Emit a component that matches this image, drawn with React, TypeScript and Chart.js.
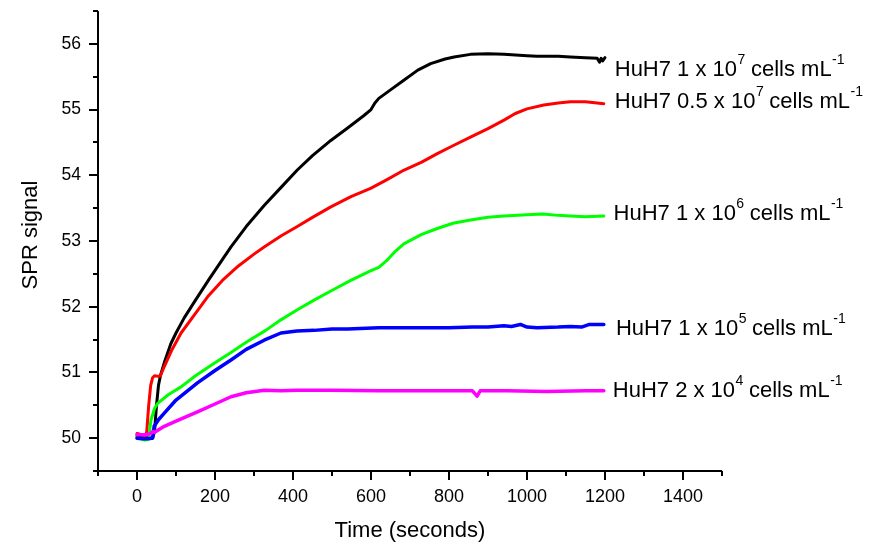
import React, { useEffect, useRef } from 'react';
import { Chart, registerables } from 'chart.js';

Chart.register(...registerables);

// ---- Data (time in seconds, SPR signal) ----
const timeBlack = [0, 20, 40, 45, 50, 55, 60, 70, 87, 100, 121, 150, 185, 241, 280, 326, 370, 411, 450, 497, 540, 582, 600, 610, 620, 650, 685, 720, 753, 790, 813, 855, 900, 941, 1000, 1026, 1080, 1111, 1150, 1180, 1186, 1190, 1194, 1200];
const signalBlack = [50.03, 50.02, 50.0, 50.1, 50.5, 50.8, 50.95, 51.15, 51.44, 51.6, 51.83, 52.1, 52.42, 52.91, 53.22, 53.54, 53.82, 54.08, 54.3, 54.53, 54.72, 54.91, 55.0, 55.1, 55.17, 55.3, 55.45, 55.6, 55.7, 55.77, 55.8, 55.84, 55.85, 55.84, 55.82, 55.81, 55.81, 55.8, 55.79, 55.78, 55.72, 55.78, 55.74, 55.79];

const timeRed = [0, 15, 20, 25, 30, 35, 40, 45, 55, 60, 70, 90, 113, 150, 181, 219, 260, 300, 326, 370, 411, 450, 497, 550, 599, 640, 685, 730, 770, 810, 855, 900, 941, 970, 1000, 1043, 1080, 1111, 1150, 1197];
const signalRed = [50.07, 50.05, 50.0, 50.1, 50.5, 50.8, 50.92, 50.95, 50.94, 50.95, 51.09, 51.35, 51.6, 51.9, 52.15, 52.4, 52.62, 52.8, 52.91, 53.08, 53.22, 53.36, 53.52, 53.68, 53.8, 53.93, 54.08, 54.2, 54.33, 54.45, 54.58, 54.71, 54.84, 54.94, 55.01, 55.07, 55.1, 55.12, 55.12, 55.09];

const timeGreen = [0, 20, 30, 33, 36, 45, 53, 80, 113, 150, 198, 240, 283, 330, 369, 410, 454, 497, 548, 600, 620, 640, 660, 685, 730, 770, 810, 855, 900, 941, 1000, 1040, 1080, 1111, 1150, 1197];
const signalGreen = [50.0, 49.97, 49.98, 50.15, 50.28, 50.45, 50.53, 50.66, 50.78, 50.95, 51.14, 51.3, 51.47, 51.64, 51.8, 51.95, 52.1, 52.24, 52.4, 52.55, 52.6, 52.7, 52.83, 52.96, 53.1, 53.19, 53.27, 53.32, 53.36, 53.38, 53.4, 53.41, 53.39, 53.38, 53.37, 53.38];

const timeBlue = [0, 20, 40, 44, 55, 70, 100, 155, 200, 241, 280, 326, 369, 410, 454, 500, 540, 620, 700, 800, 860, 900, 941, 960, 983, 1000, 1026, 1080, 1111, 1140, 1160, 1180, 1197];
const signalBlue = [50.0, 49.99, 50.0, 50.18, 50.28, 50.38, 50.58, 50.84, 51.03, 51.19, 51.35, 51.49, 51.6, 51.63, 51.64, 51.66, 51.66, 51.68, 51.68, 51.68, 51.69, 51.69, 51.71, 51.7, 51.73, 51.69, 51.68, 51.69, 51.7, 51.69, 51.73, 51.73, 51.73];

const timeMagenta = [0, 20, 35, 40, 45, 70, 100, 155, 200, 241, 280, 326, 370, 411, 497, 620, 700, 800, 860, 872, 880, 950, 1050, 1150, 1197];
const signalMagenta = [50.05, 50.05, 50.07, 50.1, 50.09, 50.18, 50.26, 50.4, 50.52, 50.63, 50.69, 50.73, 50.72, 50.73, 50.73, 50.72, 50.72, 50.72, 50.72, 50.64, 50.72, 50.72, 50.71, 50.72, 50.72];

const seriesColors = ['#000000', '#ff0000', '#00ff00', '#0000ff', '#ff00ff'];
const seriesWidths = [3, 3, 3, 3.5, 3.5];

// Curve labels: main text, exponent of 10, and anchor (data units)
const labelPrefix = ['HuH7 1 x 10', 'HuH7 0.5 x 10', 'HuH7 1 x 10', 'HuH7 1 x 10', 'HuH7 2 x 10'];
const labelExponent = ['7', '7', '6', '5', '4'];
const labelSuffix = [' cells mL', ' cells mL', ' cells mL', ' cells mL', ' cells mL'];
const labelSuffixExp = ['-1', '-1', '-1', '-1', '-1'];
const labelX = [1225, 1225, 1222, 1228, 1220];
const labelY = [55.64, 55.15, 53.44, 51.69, 50.75];

const xTitle = 'Time (seconds)';
const yTitle = 'SPR signal';

const FONT = "'Liberation Sans', Arial, sans-serif";

const toPoints = (t: number[], v: number[]) => t.map((x, i) => ({ x, y: v[i] }));

const decorPlugin = {
  id: 'decor',
  afterDraw(chart: any) {
    const ctx = chart.ctx as CanvasRenderingContext2D;
    const { left, right, top, bottom } = chart.chartArea;
    const xs = chart.scales.x;
    const ys = chart.scales.y;
    ctx.save();
    ctx.strokeStyle = '#000';
    ctx.lineWidth = 2;
    ctx.beginPath();
    ctx.moveTo(left, top);
    ctx.lineTo(left, bottom);
    ctx.lineTo(right, bottom);
    ctx.stroke();
    ctx.beginPath();
    xs.ticks.forEach((t: any) => {
      const px = Math.round(xs.getPixelForValue(t.value));
      const len = t.value % 200 === 0 ? 9 : 5;
      ctx.moveTo(px, bottom);
      ctx.lineTo(px, bottom + len);
    });
    ys.ticks.forEach((t: any) => {
      const py = Math.round(ys.getPixelForValue(t.value));
      const len = Number.isInteger(t.value) ? 9 : 5;
      ctx.moveTo(left, py);
      ctx.lineTo(left - len, py);
    });
    ctx.stroke();

    // axis titles
    ctx.fillStyle = '#000';
    ctx.font = `22px ${FONT}`;
    ctx.textAlign = 'center';
    ctx.textBaseline = 'alphabetic';
    ctx.fillText(xTitle, (left + right) / 2, 537);
    ctx.save();
    ctx.translate(37, (top + bottom) / 2 - 6);
    ctx.rotate(-Math.PI / 2);
    ctx.fillText(yTitle, 0, 0);
    ctx.restore();

    // curve labels
    ctx.textAlign = 'left';
    ctx.textBaseline = 'alphabetic';
    for (let i = 0; i < labelPrefix.length; i++) {
      let x = xs.getPixelForValue(labelX[i]);
      const y = ys.getPixelForValue(labelY[i]) + 8;
      ctx.font = `22px ${FONT}`;
      ctx.fillText(labelPrefix[i], x, y);
      x += ctx.measureText(labelPrefix[i]).width;
      ctx.font = `14px ${FONT}`;
      ctx.fillText(labelExponent[i], x + 0.5, y - 12);
      x += ctx.measureText(labelExponent[i]).width;
      ctx.font = `22px ${FONT}`;
      ctx.fillText(labelSuffix[i], x, y);
      x += ctx.measureText(labelSuffix[i]).width;
      ctx.font = `14px ${FONT}`;
      ctx.fillText(labelSuffixExp[i], x + 0.5, y - 12);
    }
    ctx.restore();
  },
};

export default function App() {
  const canvasRef = useRef<HTMLCanvasElement | null>(null);

  useEffect(() => {
    document.body.style.margin = '0';
    const canvas = canvasRef.current;
    if (!canvas) return;
    const series = [
      toPoints(timeBlack, signalBlack),
      toPoints(timeRed, signalRed),
      toPoints(timeGreen, signalGreen),
      toPoints(timeBlue, signalBlue),
      toPoints(timeMagenta, signalMagenta),
    ];
    const chart = new Chart(canvas, {
      type: 'line',
      data: {
        datasets: series.map((data, i) => ({
          label: labelPrefix[i] + labelExponent[i],
          data,
          borderColor: seriesColors[i],
          backgroundColor: seriesColors[i],
          borderWidth: seriesWidths[i],
          borderJoinStyle: 'round' as const,
          borderCapStyle: 'round' as const,
          pointRadius: 0,
          tension: 0,
          fill: false,
          order: 4 - i,
        })),
      },
      options: {
        animation: false,
        responsive: false,
        devicePixelRatio: 1,
        layout: { padding: { left: 0, top: 11, right: 148, bottom: 0 } },
        plugins: { legend: { display: false }, tooltip: { enabled: false } },
        scales: {
          x: {
            type: 'linear',
            min: -100,
            max: 1500,
            grid: { display: false, drawTicks: false },
            border: { display: false },
            ticks: {
              stepSize: 100,
              autoSkip: false,
              maxRotation: 0,
              padding: 15,
              color: '#000',
              font: { family: FONT, size: 18 },
              callback: (v: any) => (Number(v) % 200 === 0 ? String(v) : ''),
            },
            afterFit: (s: any) => {
              s.height = 73;
              s.paddingLeft = 0;
              s.paddingRight = 0;
            },
          },
          y: {
            type: 'linear',
            min: 49.5,
            max: 56.5,
            grid: { display: false, drawTicks: false },
            border: { display: false },
            ticks: {
              stepSize: 0.5,
              autoSkip: false,
              padding: 17,
              color: '#000',
              font: { family: FONT, size: 17.5 },
              callback: (v: any) => (Number.isInteger(Number(v)) ? String(v) : ''),
            },
            afterFit: (s: any) => {
              s.width = 98;
              s.paddingTop = 0;
              s.paddingBottom = 0;
            },
          },
        },
      },
      plugins: [decorPlugin],
    });
    return () => chart.destroy();
  }, []);

  return (
    <div style={{ width: 870, height: 544, background: '#fff' }}>
      <canvas ref={canvasRef} width={870} height={544} style={{ display: 'block' }} />
    </div>
  );
}
